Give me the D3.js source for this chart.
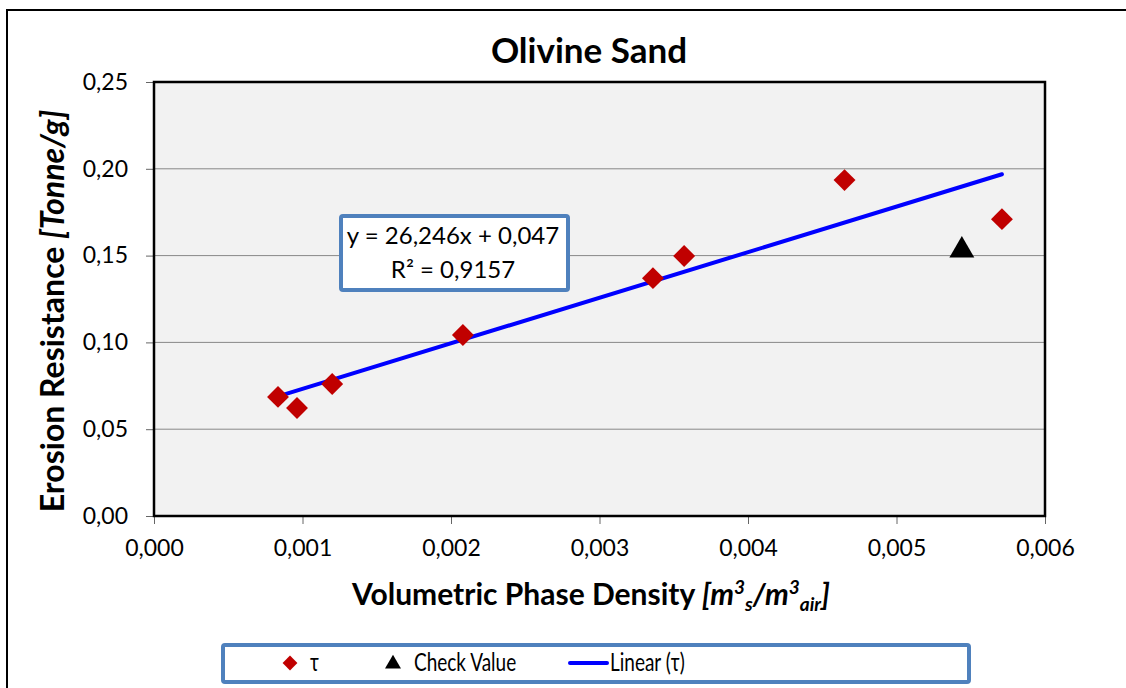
<!DOCTYPE html>
<html>
<head>
<meta charset="utf-8">
<script src="https://cdn.jsdelivr.net/npm/d3@7"></script>
<style>
  body { margin: 0; background: #fff; }
  svg { font-family: Lato, "Open Sans", sans-serif; }
</style>
</head>
<body>
<svg id="chart"></svg>
<script>
// measured values
const tauX = [0.000835, 0.000963, 0.00120, 0.00208, 0.00336, 0.00357, 0.00465, 0.00571];
const tauY = [0.0686, 0.0622, 0.0760, 0.1043, 0.1370, 0.1498, 0.1935, 0.1710];
const checkX = [0.00544];
const checkY = [0.153];
const fitSlope = 26.246;
const fitIntercept = 0.047;
const xTicks = [0, 0.001, 0.002, 0.003, 0.004, 0.005, 0.006];
const yTicks = [0, 0.05, 0.10, 0.15, 0.20, 0.25];

const width = 1126;
const height = 688;
const margin = { top: 82, right: 81, bottom: 172, left: 154 };

const svg = d3.select("#chart")
  .attr("width", width)
  .attr("height", height);

// outer frame
svg.append("rect")
  .attr("x", 7).attr("y", 10)
  .attr("width", 1140).attr("height", 700)
  .attr("fill", "none").attr("stroke", "#000").attr("stroke-width", 2);

const x = d3.scaleLinear().domain([0, 0.006]).range([margin.left, width - margin.right]);
const y = d3.scaleLinear().domain([0, 0.25]).range([height - margin.bottom, margin.top]);

const fmtX = d => d3.format(".3f")(d).replace(".", ",");
const fmtY = d => d3.format(".2f")(d).replace(".", ",");

// plot background
svg.append("rect")
  .attr("x", x(0)).attr("y", y(0.25))
  .attr("width", x(0.006) - x(0)).attr("height", y(0) - y(0.25))
  .attr("fill", "#f2f2f2");

// gridlines
svg.append("g")
  .selectAll("line")
  .data(yTicks.filter(d => d > 0))
  .enter().append("line")
    .attr("x1", x(0)).attr("x2", x(0.006))
    .attr("y1", d => y(d)).attr("y2", d => y(d))
    .attr("stroke", "#888").attr("stroke-width", 1);

// axes
const xAxis = svg.append("g")
  .attr("transform", `translate(0,${y(0)})`)
  .call(d3.axisBottom(x).tickValues(xTicks).tickFormat(fmtX).tickSize(8).tickPadding(16));
const yAxis = svg.append("g")
  .attr("transform", `translate(${x(0)},0)`)
  .call(d3.axisLeft(y).tickValues(yTicks).tickFormat(fmtY).tickSize(8).tickPadding(18));

[xAxis, yAxis].forEach(a => {
  a.select(".domain").remove();
  a.selectAll(".tick line").attr("stroke", "#666");
  a.selectAll("text").attr("font-size", 23).attr("fill", "#000")
    .style("font-family", "Lato, 'Open Sans', sans-serif");
});

// plot border
svg.append("rect")
  .attr("x", x(0)).attr("y", y(0.25))
  .attr("width", x(0.006) - x(0)).attr("height", y(0) - y(0.25))
  .attr("fill", "none").attr("stroke", "#000").attr("stroke-width", 2.5);

// trendline
const x0 = d3.min(tauX), x1 = d3.max(tauX);
svg.append("line")
  .attr("x1", x(x0)).attr("y1", y(fitSlope * x0 + fitIntercept))
  .attr("x2", x(x1)).attr("y2", y(fitSlope * x1 + fitIntercept))
  .attr("stroke", "#0000ff").attr("stroke-width", 4).attr("stroke-linecap", "round");

// tau points
const diamond = d3.symbol().type(d3.symbolSquare).size(240);
svg.append("g")
  .selectAll("path")
  .data(tauX.map((d, i) => [d, tauY[i]]))
  .enter().append("path")
    .attr("d", diamond)
    .attr("transform", d => `translate(${x(d[0])},${y(d[1])}) rotate(45)`)
    .attr("fill", "#c00000");

// check value
const tri = d3.symbol().type(d3.symbolTriangle).size(270);
svg.append("g")
  .selectAll("path")
  .data(checkX.map((d, i) => [d, checkY[i]]))
  .enter().append("path")
    .attr("d", tri)
    .attr("transform", d => `translate(${x(d[0])},${y(d[1])})`)
    .attr("fill", "#000");

// equation box
svg.append("rect")
  .attr("x", 341).attr("y", 216)
  .attr("width", 227).attr("height", 74)
  .attr("fill", "#fff").attr("stroke", "#4f81bd").attr("stroke-width", 4).attr("rx", 2);
svg.append("text")
  .attr("x", 453).attr("y", 244)
  .attr("text-anchor", "middle").attr("font-size", 24)
  .text("y = 26,246x + 0,047");
svg.append("text")
  .attr("x", 453).attr("y", 278)
  .attr("text-anchor", "middle").attr("font-size", 24)
  .text("R² = 0,9157");

// title
svg.append("text")
  .attr("x", 589).attr("y", 63)
  .attr("text-anchor", "middle")
  .attr("font-size", 35).attr("font-weight", "bold")
  .text("Olivine Sand");

// y axis title
const yTitle = svg.append("text")
  .attr("transform", "translate(64,311) rotate(-90)")
  .attr("text-anchor", "middle")
  .attr("font-size", 32).attr("font-weight", "bold");
yTitle.append("tspan").text("Erosion Resistance ");
yTitle.append("tspan").attr("font-style", "italic").text("[Tonne/g]");

// x axis title
const xTitle = svg.append("text")
  .attr("x", 591).attr("y", 605)
  .attr("text-anchor", "middle")
  .attr("font-size", 30).attr("font-weight", "bold");
xTitle.append("tspan").text("Volumetric Phase Density  ");
xTitle.append("tspan").attr("font-style", "italic").text("[m");
xTitle.append("tspan").attr("font-style", "italic").attr("font-size", 19).attr("dy", -11).text("3");
xTitle.append("tspan").attr("font-style", "italic").attr("font-size", 19).attr("dy", 17).text("s");
xTitle.append("tspan").attr("font-style", "italic").attr("dy", -6).text("/m");
xTitle.append("tspan").attr("font-style", "italic").attr("font-size", 19).attr("dy", -11).text("3");
xTitle.append("tspan").attr("font-style", "italic").attr("font-size", 19).attr("dy", 17).text("air");
xTitle.append("tspan").attr("font-style", "italic").attr("dy", -6).text("]");

// legend
svg.append("rect")
  .attr("x", 223).attr("y", 645)
  .attr("width", 746).attr("height", 37)
  .attr("fill", "#fff").attr("stroke", "#4f81bd").attr("stroke-width", 4).attr("rx", 2);
const ly = 663;
const legendText = (tx, label) => svg.append("text")
  .attr("transform", `translate(${tx},${ly + 8}) scale(1,1.3)`)
  .attr("font-size", 19).text(label);
svg.append("path").attr("d", d3.symbol().type(d3.symbolSquare).size(110))
  .attr("transform", `translate(290,${ly}) rotate(45)`).attr("fill", "#c00000");
legendText(310, "τ");
svg.append("path").attr("d", d3.symbol().type(d3.symbolTriangle).size(110))
  .attr("transform", `translate(393,${ly + 1})`).attr("fill", "#000");
legendText(414, "Check Value");
svg.append("line").attr("x1", 570).attr("x2", 607).attr("y1", ly).attr("y2", ly)
  .attr("stroke", "#0000ff").attr("stroke-width", 4).attr("stroke-linecap", "round");
legendText(610, "Linear (τ)");
</script>
</body>
</html>
